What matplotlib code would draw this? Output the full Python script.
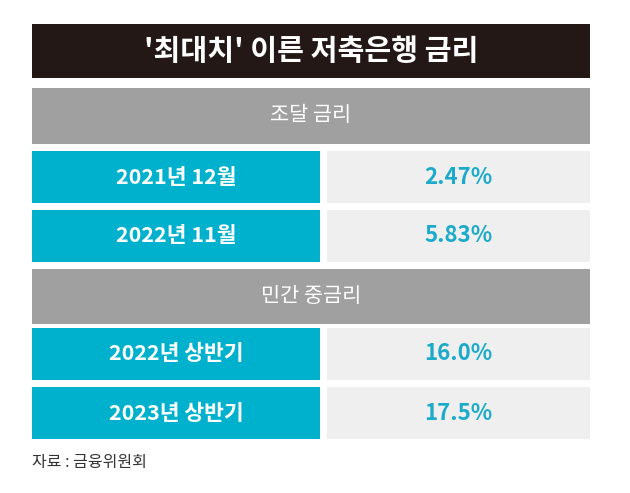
import matplotlib as mpl
mpl.use('Agg')
import matplotlib.pyplot as plt
from matplotlib.patches import Rectangle

plt.rcParams['font.family'] = ['Noto Sans CJK KR', 'DejaVu Sans']

title = "'최대치' 이른 저축은행 금리"
sections = ["조달 금리", "민간 중금리"]
periods = [["2021년 12월", "2022년 11월"], ["2022년 상반기", "2023년 상반기"]]
rates = [[2.47, 5.83], [16.0, 17.5]]
rate_fmt = ["{:.2f}%", "{:.1f}%"]
source = "자료 : 금융위원회"

dark = '#231815'
gray = '#a0a0a0'
teal = '#00b1cd'
light = '#efefef'
value_color = '#1aaaca'

fig = plt.figure(figsize=(6.3, 4.93), dpi=100)
ax = fig.add_axes([0, 0, 1, 1])
ax.set_xlim(0, 630)
ax.set_ylim(493, 0)
ax.axis('off')

x0, xmid, xgap, x1 = 32, 320, 327, 590

# title bar
ax.add_patch(Rectangle((x0, 24), x1 - x0, 54, color=dark, lw=0))
ax.text((x0 + x1) / 2, 51, title, color='white', fontsize=21, fontweight='heavy',
        ha='center', va='center')

header_y = [88, 269]
header_h = 56
row_h = 52
row_step = 59
for s, name in enumerate(sections):
    hy = header_y[s]
    ax.add_patch(Rectangle((x0, hy), x1 - x0, header_h - 1 if s else header_h, color=gray, lw=0))
    ax.text((x0 + x1) / 2, hy + header_h / 2 - 1, name, color='white', fontsize=15,
            fontweight='medium', ha='center', va='center')
    for i, (p, r) in enumerate(zip(periods[s], rates[s])):
        ry = hy + 63 + i * row_step - (s * 4)
        ax.add_patch(Rectangle((x0, ry), xmid - x0, row_h, color=teal, lw=0))
        ax.add_patch(Rectangle((xgap, ry), x1 - xgap, row_h, color=light, lw=0))
        ax.text((x0 + xmid) / 2, ry + row_h / 2, p, color='white', fontsize=15.5,
                fontweight='bold', ha='center', va='center')
        ax.text((xgap + x1) / 2, ry + row_h / 2, rate_fmt[s].format(r), color=value_color,
                fontsize=16, fontweight='bold', ha='center', va='center')

ax.text(x0, 462, source, color='#333333', fontsize=11.5, ha='left', va='center')

fig.savefig('out.png', dpi=100, facecolor='white')
